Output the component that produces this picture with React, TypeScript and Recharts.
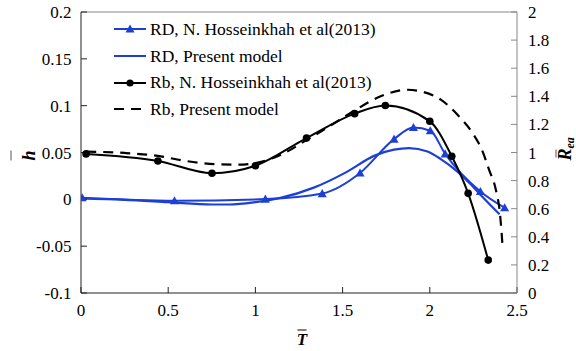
import { LineChart, Line, XAxis, YAxis, ReferenceLine, Label } from 'recharts';

// RD, N. Hosseinkhah et al (2013) - triangles
const rdRefT = [0.007, 0.536, 1.057, 1.383, 1.6, 1.795, 1.906, 2.003, 2.088, 2.29, 2.429];
const rdRefH = [0.0017, -0.0015, 0.0003, 0.0062, 0.0282, 0.0643, 0.0767, 0.0732, 0.0486, 0.0084, -0.009];

// RD, present model
const rdModT = [0, 0.25, 0.5, 0.75, 0.85, 1.0, 1.144, 1.335, 1.527, 1.68, 1.795, 1.88, 1.987, 2.063, 2.15, 2.23, 2.3, 2.4];
const rdModH = [0.001, -0.0005, -0.003, -0.0055, -0.0055, -0.003, 0.0015, 0.0125, 0.0296, 0.0464, 0.053, 0.0547, 0.051, 0.043, 0.031, 0.017, 0.003, -0.016];

// Rb, N. Hosseinkhah et al (2013) - circles
const rbRefT = [0.029, 0.441, 0.751, 1.0, 1.293, 1.569, 1.745, 2.0, 2.126, 2.22, 2.335];
const rbRefH = [0.0485, 0.041, 0.0279, 0.0359, 0.0654, 0.0915, 0.1001, 0.0833, 0.046, 0.0064, -0.0649];

// Rb, present model (dashed)
const rbModT = [0.03, 0.25, 0.44, 0.6, 0.77, 0.9, 1.0, 1.15, 1.3, 1.45, 1.57, 1.718, 1.872, 1.948, 2.063, 2.168, 2.245, 2.303, 2.34, 2.379, 2.402, 2.412, 2.416];
const rbModH = [0.051, 0.0495, 0.0464, 0.041, 0.0375, 0.037, 0.0386, 0.048, 0.064, 0.081, 0.095, 0.11, 0.117, 0.1153, 0.1064, 0.0885, 0.0707, 0.051, 0.0314, 0.01, -0.0147, -0.0364, -0.047];

const xTicks = [0, 0.5, 1, 1.5, 2, 2.5];
const hTicks = [-0.1, -0.05, 0, 0.05, 0.1, 0.15, 0.2];
const rTicks = [0, 0.2, 0.4, 0.6, 0.8, 1, 1.2, 1.4, 1.6, 1.8, 2];

const BLUE = '#1c3fd6';
const SERIF = "'Times New Roman', Times, 'Liberation Serif', 'DejaVu Serif', serif";

const toPoints = (t: number[], h: number[]) => t.map((T, i) => ({ T, h: h[i] }));

const tickStyle = { fill: '#000', fontSize: 17, fontFamily: SERIF };

function TriangleDot(props: any) {
    const { cx, cy, index } = props;
    if (cx == null || cy == null) return null;
    const s = 4.5;
    return (
        <path
            key={`tri-${index}`}
            d={`M${cx},${cy - s} L${cx + s},${cy + s * 0.8} L${cx - s},${cy + s * 0.8} Z`}
            fill={BLUE}
        />
    );
}

const legendItems = [
    { name: 'RD, N. Hosseinkhah et al(2013)', color: BLUE, marker: 'triangle', dash: undefined },
    { name: 'RD, Present model', color: BLUE, marker: 'none', dash: undefined },
    { name: 'Rb, N. Hosseinkhah et al(2013)', color: '#000', marker: 'circle', dash: undefined },
    { name: 'Rb, Present model', color: '#000', marker: 'none', dash: '10 7' },
];

function LegendBox() {
    return (
        <div style={{ position: 'absolute', left: 113, top: 16, fontFamily: SERIF, fontSize: 17.5, color: '#000' }}>
            {legendItems.map((it) => (
                <div key={it.name} style={{ display: 'flex', alignItems: 'center', height: 26.7 }}>
                    <svg width={34} height={12}>
                        <line x1={1} x2={33} y1={6} y2={6} stroke={it.color} strokeWidth={2} strokeDasharray={it.dash} />
                        {it.marker === 'triangle' && <path d="M17,1.5 L21.5,9.6 L12.5,9.6 Z" fill={it.color} />}
                        {it.marker === 'circle' && <circle cx={17} cy={6} r={3.6} fill={it.color} />}
                    </svg>
                    <span style={{ marginLeft: 3, whiteSpace: 'nowrap' }}>{it.name}</span>
                </div>
            ))}
        </div>
    );
}

function XTitle(props: any) {
    const { viewBox } = props;
    const cx = viewBox.x + viewBox.width / 2 + 3;
    const y = viewBox.y + 52;
    return (
        <g>
            <text x={cx} y={y} textAnchor="middle" fontFamily={SERIF} fontWeight="bold" fontStyle="italic" fontSize={17} fill="#000">T</text>
            <line x1={cx - 4.5} x2={cx + 4.5} y1={y - 15} y2={y - 15} stroke="#000" strokeWidth={1} />
        </g>
    );
}

function HTitle(props: any) {
    const { viewBox } = props;
    const x = 35;
    const y = viewBox.y + viewBox.height / 2 + 3;
    return (
        <g>
            <text x={x} y={y} transform={`rotate(-90, ${x}, ${y})`} textAnchor="middle" fontFamily={SERIF} fontWeight="bold" fontStyle="italic" fontSize={18} fill="#000">h</text>
            <line x1={x - 24} x2={x - 24} y1={y - 5} y2={y + 5} stroke="#555" strokeWidth={1} />
        </g>
    );
}

function RTitle(props: any) {
    const { viewBox } = props;
    const x = viewBox.x + 54;
    const y = viewBox.y + viewBox.height / 2 + 8;
    return (
        <g>
            <text x={x} y={y} transform={`rotate(-90, ${x}, ${y})`} textAnchor="start" fontFamily={SERIF} fontWeight="bold" fontStyle="italic" fontSize={18} fill="#000">
                R<tspan fontSize={12} dy={3}>ea</tspan>
            </text>
            <line x1={x - 15} x2={x - 15} y1={y - 11} y2={y - 3} stroke="#555" strokeWidth={1} />
        </g>
    );
}

export default function App() {
    return (
        <div style={{ position: 'absolute', left: 0, top: 0, width: 576, height: 351, background: '#fff', fontFamily: SERIF }}>
            <LineChart width={576} height={351} margin={{ top: 12, right: 0, left: 0, bottom: 0 }} style={{ fontFamily: SERIF }}>
                <XAxis
                    type="number"
                    dataKey="T"
                    domain={[0, 2.5]}
                    ticks={xTicks}
                    height={58}
                    stroke="#222"
                    tick={tickStyle}
                    tickSize={-6}
                    tickMargin={17}
                    allowDataOverflow
                >
                    <Label content={<XTitle />} />
                </XAxis>
                <YAxis
                    yAxisId="h"
                    type="number"
                    domain={[-0.1, 0.2]}
                    ticks={hTicks}
                    width={81}
                    stroke="#222"
                    tick={tickStyle}
                    tickSize={-6}
                    tickMargin={15.5}
                    allowDataOverflow
                >
                    <Label content={<HTitle />} />
                </YAxis>
                <YAxis
                    yAxisId="r"
                    orientation="right"
                    type="number"
                    domain={[0, 2]}
                    ticks={rTicks}
                    width={59}
                    stroke="#888"
                    tick={tickStyle}
                    tickSize={-6}
                    tickMargin={17}
                    allowDataOverflow
                >
                    <Label content={<RTitle />} />
                </YAxis>
                <ReferenceLine yAxisId="h" y={0.2} stroke="#888" strokeWidth={1} />
                <Line
                    name="RD, N. Hosseinkhah et al(2013)"
                    yAxisId="h"
                    data={toPoints(rdRefT, rdRefH)}
                    dataKey="h"
                    type="monotone"
                    stroke={BLUE}
                    strokeWidth={2}
                    dot={<TriangleDot />}
                    activeDot={false}
                    isAnimationActive={false}
                />
                <Line
                    name="RD, Present model"
                    yAxisId="h"
                    data={toPoints(rdModT, rdModH)}
                    dataKey="h"
                    type="monotone"
                    stroke={BLUE}
                    strokeWidth={2.2}
                    dot={false}
                    activeDot={false}
                    isAnimationActive={false}
                />
                <Line
                    name="Rb, N. Hosseinkhah et al(2013)"
                    yAxisId="h"
                    data={toPoints(rbRefT, rbRefH)}
                    dataKey="h"
                    type="monotone"
                    stroke="#000"
                    strokeWidth={2}
                    dot={{ r: 3.8, fill: '#000', stroke: '#000', strokeWidth: 0 }}
                    activeDot={false}
                    isAnimationActive={false}
                />
                <Line
                    name="Rb, Present model"
                    yAxisId="h"
                    data={toPoints(rbModT, rbModH)}
                    dataKey="h"
                    type="monotone"
                    stroke="#000"
                    strokeWidth={2.2}
                    strokeDasharray="10 7"
                    dot={false}
                    activeDot={false}
                    isAnimationActive={false}
                />
            </LineChart>
            <LegendBox />
        </div>
    );
}
